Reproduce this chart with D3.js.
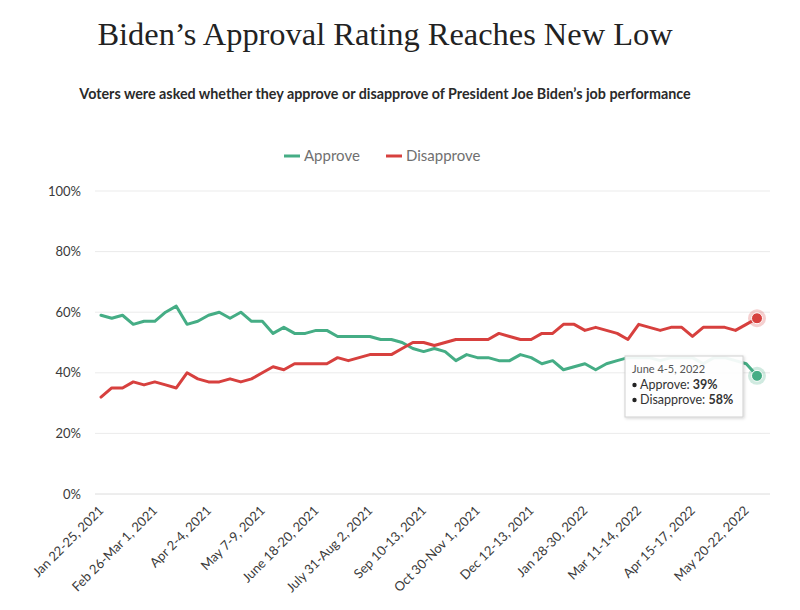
<!DOCTYPE html>
<html>
<head>
<meta charset="utf-8">
<script src="https://cdn.jsdelivr.net/npm/d3@7/dist/d3.min.js"></script>
<style>
  html, body { margin: 0; padding: 0; background: #fff; }
  svg { display: block; }
</style>
</head>
<body>
<svg id="chart" width="800" height="610"></svg>
<script>
// ---- DATA ----
const categories = [
  "Jan 22-25, 2021", "Jan 29-Feb 1, 2021", "Feb 5-7, 2021", "Feb 12-15, 2021", "Feb 19-22, 2021",
  "Feb 26-Mar 1, 2021", "Mar 5-8, 2021", "Mar 12-15, 2021", "Mar 19-22, 2021", "Mar 26-29, 2021",
  "Apr 2-4, 2021", "Apr 9-11, 2021", "Apr 16-19, 2021", "Apr 24-26, 2021", "Apr 30-May 3, 2021",
  "May 7-9, 2021", "May 14-17, 2021", "May 21-24, 2021", "May 29-31, 2021", "June 4-7, 2021",
  "June 18-20, 2021", "June 25-28, 2021", "July 2-5, 2021", "July 9-12, 2021", "July 16-19, 2021",
  "July 31-Aug 2, 2021", "Aug 6-8, 2021", "Aug 13-16, 2021", "Aug 20-23, 2021", "Aug 27-30, 2021",
  "Sep 10-13, 2021", "Sep 18-20, 2021", "Sep 24-27, 2021", "Oct 1-4, 2021", "Oct 16-18, 2021",
  "Oct 30-Nov 1, 2021", "Nov 6-9, 2021", "Nov 13-15, 2021", "Nov 22-24, 2021", "Dec 4-6, 2021",
  "Dec 12-13, 2021", "Dec 18-20, 2021", "Jan 1-3, 2022", "Jan 8-10, 2022", "Jan 15-17, 2022",
  "Jan 28-30, 2022", "Feb 5-6, 2022", "Feb 12-13, 2022", "Feb 19-20, 2022", "Mar 4-6, 2022",
  "Mar 11-14, 2022", "Mar 18-20, 2022", "Mar 25-27, 2022", "Apr 1-3, 2022", "Apr 8-10, 2022",
  "Apr 15-17, 2022", "Apr 22-24, 2022", "Apr 29-May 1, 2022", "May 6-8, 2022", "May 13-15, 2022",
  "May 20-22, 2022", "June 4-5, 2022"
];
const approve = [
  59, 58, 59, 56, 57, 57, 60, 62, 56, 57,
  59, 60, 58, 60, 57, 57, 53, 55, 53, 53,
  54, 54, 52, 52, 52, 52, 51, 51, 50, 48,
  47, 48, 47, 44, 46, 45, 45, 44, 44, 46,
  45, 43, 44, 41, 42, 43, 41, 43, 44, 45,
  45, 45, 44, 45, 45, 45, 43, 45, 45, 44,
  43, 39
];
const disapprove = [
  32, 35, 35, 37, 36, 37, 36, 35, 40, 38,
  37, 37, 38, 37, 38, 40, 42, 41, 43, 43,
  43, 43, 45, 44, 45, 46, 46, 46, 48, 50,
  50, 49, 50, 51, 51, 51, 51, 53, 52, 51,
  51, 53, 53, 56, 56, 54, 55, 54, 53, 51,
  56, 55, 54, 55, 55, 52, 55, 55, 55, 54,
  56, 58
];
const yTicks = [0, 20, 40, 60, 80, 100];
const labelEvery = 5;
const seriesNames = ["Approve", "Disapprove"];
const titleText = "Biden\u2019s Approval Rating Reaches New Low";
const subtitleText = "Voters were asked whether they approve or disapprove of President Joe Biden\u2019s job performance";

// ---- STYLE / LAYOUT ----
const colors = { "Approve": "#45ad85", "Disapprove": "#d7403e" };
const sansFont = "Lato, 'Open Sans', 'Noto Sans', sans-serif";
const svg = d3.select("#chart");

const x = d3.scalePoint().domain(categories).range([101, 757]);
const y = d3.scaleLinear().domain([0, 100]).range([494, 191]);

function fitText(sel, targetWidth, startSize) {
  let size = startSize;
  sel.attr("font-size", size);
  for (let i = 0; i < 6; i++) {
    const w = sel.node().getComputedTextLength();
    if (!w) break;
    size = size * targetWidth / w;
    sel.attr("font-size", size);
  }
}

// Title
const title = svg.append("text")
  .attr("x", 385).attr("y", 45)
  .attr("text-anchor", "middle")
  .attr("font-family", "'Liberation Serif', 'DejaVu Serif', serif")
  .attr("fill", "#222")
  .text(titleText);
fitText(title, 575, 36);

// Subtitle
const subtitle = svg.append("text")
  .attr("x", 385).attr("y", 99)
  .attr("text-anchor", "middle")
  .attr("font-family", sansFont)
  .attr("font-weight", 700)
  .attr("fill", "#2a2a2a")
  .text(subtitleText);
fitText(subtitle, 611, 14);

// Legend
const legendItems = [
  { name: "Approve", x: 284 },
  { name: "Disapprove", x: 386 }
];
legendItems.forEach(it => {
  svg.append("line")
    .attr("x1", it.x).attr("x2", it.x + 16)
    .attr("y1", 156).attr("y2", 156)
    .attr("stroke", colors[it.name]).attr("stroke-width", 3);
  svg.append("text")
    .attr("x", it.x + 20).attr("y", 156)
    .attr("dy", "0.35em")
    .attr("font-family", sansFont)
    .attr("font-size", 15)
    .attr("fill", "#707070")
    .text(it.name);
});

// Gridlines + y labels
const grid = svg.append("g");
yTicks.forEach(t => {
  grid.append("line")
    .attr("x1", 95).attr("x2", 770)
    .attr("y1", y(t)).attr("y2", y(t))
    .attr("stroke", t === 0 ? "#dcdcdc" : "#ebebeb")
    .attr("stroke-width", 1);
  grid.append("text")
    .attr("x", 81).attr("y", y(t))
    .attr("dy", "0.35em")
    .attr("text-anchor", "end")
    .attr("font-family", sansFont)
    .attr("font-size", 13)
    .attr("fill", "#3a3a3a")
    .text(t + "%");
});

// X labels
const xl = svg.append("g");
categories.forEach((c, i) => {
  if (i % labelEvery !== 0) return;
  xl.append("text")
    .attr("transform", `translate(${x(c) - 3},${505}) rotate(-45)`)
    .attr("text-anchor", "end")
    .attr("dy", "0.7em")
    .attr("font-family", sansFont)
    .attr("font-size", 13)
    .attr("fill", "#3a3a3a")
    .text(c);
});

// Lines
const seriesData = { "Approve": approve, "Disapprove": disapprove };
const line = d3.line()
  .x((d, i) => x(categories[i]))
  .y(d => y(d));
seriesNames.forEach(name => {
  svg.append("path")
    .datum(seriesData[name])
    .attr("fill", "none")
    .attr("stroke", colors[name])
    .attr("stroke-width", 3)
    .attr("stroke-linejoin", "round")
    .attr("stroke-linecap", "round")
    .attr("d", line);
});

// End markers
const last = categories.length - 1;
seriesNames.forEach(name => {
  const cx = x(categories[last]), cy = y(seriesData[name][last]);
  svg.append("circle").attr("cx", cx).attr("cy", cy).attr("r", 9)
    .attr("fill", colors[name]).attr("fill-opacity", 0.25);
  svg.append("circle").attr("cx", cx).attr("cy", cy).attr("r", 5.5)
    .attr("fill", colors[name]).attr("stroke", "#fff").attr("stroke-width", 1);
});

// Tooltip
const defs = svg.append("defs");
const f = defs.append("filter").attr("id", "shadow").attr("x", "-20%").attr("y", "-20%").attr("width", "150%").attr("height", "150%");
f.append("feDropShadow").attr("dx", 1).attr("dy", 1).attr("stdDeviation", 1.5).attr("flood-color", "#000").attr("flood-opacity", 0.18);

const tip = svg.append("g");
tip.append("rect")
  .attr("x", 625).attr("y", 356).attr("width", 118).attr("height", 61)
  .attr("fill", "#fff").attr("fill-opacity", 0.92)
  .attr("stroke", "#d0d0d0").attr("stroke-width", 1)
  .attr("filter", "url(#shadow)");
tip.append("text")
  .attr("x", 632).attr("y", 373)
  .attr("font-family", sansFont).attr("font-size", 11)
  .attr("fill", "#555")
  .text(categories[last]);
seriesNames.forEach((name, i) => {
  const ty = 389 + i * 15;
  tip.append("circle").attr("cx", 634.5).attr("cy", ty - 4).attr("r", 2.2).attr("fill", "#222");
  const t = tip.append("text")
    .attr("x", 640).attr("y", ty)
    .attr("font-family", sansFont).attr("font-size", 12.5)
    .attr("fill", "#333");
  t.append("tspan").text(name + ": ");
  t.append("tspan").attr("font-weight", 700).text(seriesData[name][last] + "%");
});
</script>
</body>
</html>
